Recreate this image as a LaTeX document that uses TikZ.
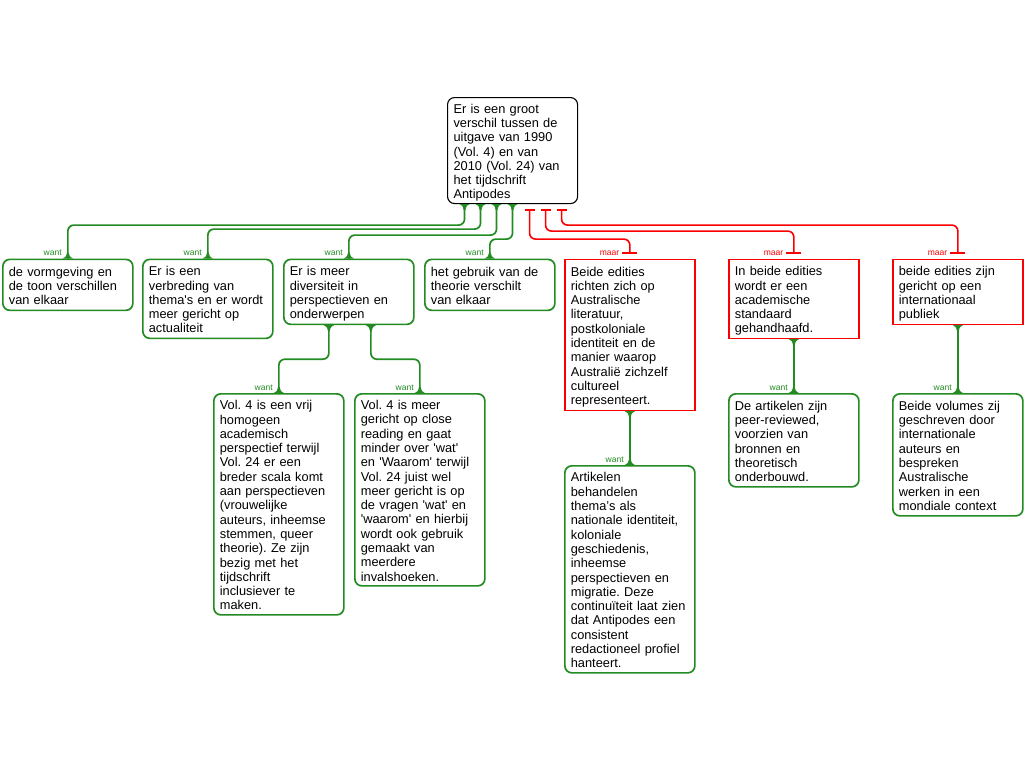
\documentclass[tikz,border=0pt]{standalone}
\usepackage{fontspec}
\setmainfont{Liberation Sans}[Ligatures=TeXOff]
\frenchspacing
\usetikzlibrary{arrows.meta}
\definecolor{gcol}{RGB}{34,139,34}
\definecolor{rcol}{RGB}{250,0,0}
\newcommand\tstrut{\rule{0pt}{15.5pt}}
\newcommand\bstrut{\rule[-4.5pt]{0pt}{0pt}}
\tikzset{
  txt/.style={anchor=north west, inner xsep=6pt, inner ysep=0pt, text width=118pt, align=left,
    font=\fontsize{12.8}{14.3}\selectfont, text=black,
    execute at begin node=\tstrut, execute at end node=\bstrut},
  topbox/.style={txt, draw=black, line width=1.1pt, rounded corners=7pt},
  gbox/.style={txt, draw=gcol, line width=1.7pt, rounded corners=7pt},
  rbox/.style={txt, draw=rcol, line width=1.7pt},
  gline/.style={draw=gcol, line width=1.7pt, rounded corners=6pt},
  rline/.style={draw=rcol, line width=1.6pt, rounded corners=6pt,
    {Bar[width=10pt,line width=1.6pt]}-{Bar[width=15pt,line width=1.6pt]}, shorten <=5pt, shorten >=5pt},
  glab/.style={anchor=east, inner sep=0pt, text=gcol, font=\fontsize{8.5}{9}\selectfont},
  rlab/.style={anchor=east, inner sep=0pt, text=rcol, font=\fontsize{8.5}{9}\selectfont},
}
\newcommand\flaredown[1]{\fill[gcol] ([xshift=-5pt]#1) .. controls ([xshift=-2pt,yshift=-1.5pt]#1) .. ([xshift=-0.8pt,yshift=-6pt]#1) -- ([xshift=0.8pt,yshift=-6pt]#1) .. controls ([xshift=2pt,yshift=-1.5pt]#1) .. ([xshift=5pt]#1) -- cycle;}
\newcommand\flareup[1]{\fill[gcol] ([xshift=-5pt]#1) .. controls ([xshift=-2pt,yshift=1.5pt]#1) .. ([xshift=-0.8pt,yshift=6pt]#1) -- ([xshift=0.8pt,yshift=6pt]#1) .. controls ([xshift=2pt,yshift=1.5pt]#1) .. ([xshift=5pt]#1) -- cycle;}
\begin{document}
\begin{tikzpicture}[x=1pt,y=-1pt]
\useasboundingbox (0,0) rectangle (1024,768);
\fill[white] (0,0) rectangle (1024,768);

\node[topbox, minimum height=106pt] (T) at (447,97) {Er is een groot\\verschil tussen de\\uitgave van 1990\\(Vol. 4) en van\\2010 (Vol. 24) van\\het tijdschrift\\Antipodes};

\node[gbox, minimum height=51pt] (c1) at (2,258.5) {de vormgeving en\\de toon verschillen\\van elkaar};
\node[gbox, minimum height=79pt] (c2) at (142,258.5) {Er is een\\verbreding van\\thema's en er wordt\\meer gericht op\\actualiteit};
\node[gbox, minimum height=65pt] (c3) at (283,258.5) {Er is meer\\diversiteit in\\perspectieven en\\onderwerpen};
\node[gbox, minimum height=51pt] (c4) at (424,258.5) {het gebruik van de\\theorie verschilt\\van elkaar};
\node[rbox, minimum height=151pt] (c5) at (564,258.5) {Beide edities\\richten zich op\\Australische\\literatuur,\\postkoloniale\\identiteit en de\\manier waarop\\Australië zichzelf\\cultureel\\representeert.};
\node[rbox, minimum height=79pt] (c6) at (728,258.5) {In beide edities\\wordt er een\\academische\\standaard\\gehandhaafd.};
\node[rbox, minimum height=65pt] (c7) at (892,258.5) {beide edities zijn\\gericht op een\\internationaal\\publiek};

\node[gbox, minimum height=221pt] (c3a) at (213,393) {Vol. 4 is een vrij\\homogeen\\academisch\\perspectief terwijl\\Vol. 24 er een\\breder scala komt\\aan perspectieven\\(vrouwelijke\\auteurs, inheemse\\stemmen, queer\\theorie). Ze zijn\\bezig met het\\tijdschrift\\inclusiever te\\maken.};
\node[gbox, minimum height=192pt] (c3b) at (354,393) {Vol. 4 is meer\\gericht op close\\reading en gaat\\minder over 'wat'\\en 'Waarom' terwijl\\Vol. 24 juist wel\\meer gericht is op\\de vragen 'wat' en\\'waarom' en hierbij\\wordt ook gebruik\\gemaakt van\\meerdere\\invalshoeken.};
\node[gbox, minimum height=207pt] (c5a) at (564,465) {Artikelen\\behandelen\\thema’s als\\nationale identiteit,\\koloniale\\geschiedenis,\\inheemse\\perspectieven en\\migratie. Deze\\continuïteit laat zien\\dat Antipodes een\\consistent\\redactioneel profiel\\hanteert.};
\node[gbox, minimum height=93pt] (c6a) at (728,393) {De artikelen zijn\\peer-reviewed,\\voorzien van\\bronnen en\\theoretisch\\onderbouwd.};
\node[gbox, minimum height=122pt] (c7a) at (892,393) {Beide volumes zij\\geschreven door\\internationale\\auteurs en\\bespreken\\Australische\\werken in een\\mondiale context};

% exit points on the top node
\coordinate (g1) at ([xshift=-48pt]T.south);
\coordinate (g2) at ([xshift=-32pt]T.south);
\coordinate (g3) at ([xshift=-16pt]T.south);
\coordinate (g4) at ([xshift=0pt]T.south);
\coordinate (r1) at ([xshift=17pt]T.south);
\coordinate (r2) at ([xshift=33pt]T.south);
\coordinate (r3) at ([xshift=49pt]T.south);
\coordinate (d1) at ([xshift=-20pt]c3.south);
\coordinate (d2) at ([xshift=22pt]c3.south);

% green (want) connectors
\draw[gline] (g1) -- ++(0,21) -| (c1.north);
\draw[gline] (g2) -- ++(0,25) -| (c2.north);
\draw[gline] (g3) -- ++(0,31) -| (c3.north);
\draw[gline] (g4) -- ++(0,35) -| (c4.north);
\draw[gline] (d1) -- ++(0,34) -| (c3a.north);
\draw[gline] (d2) -- ++(0,34) -| (c3b.north);
\draw[gline] (c5.south) -- (c5a.north);
\draw[gline] (c6.south) -- (c6a.north);
\draw[gline] (c7.south) -- (c7a.north);

\foreach \p in {g1,g2,g3,g4,d1,d2,c5.south,c6.south,c7.south} {\flaredown{\p}}
\foreach \p in {c1.north,c2.north,c3.north,c4.north,c3a.north,c3b.north,c5a.north,c6a.north,c7a.north} {\flareup{\p}}

% red (maar) connectors
\draw[rline] (r1) -- ++(0,35) -| (c5.north);
\draw[rline] (r2) -- ++(0,27) -| (c6.north);
\draw[rline] (r3) -- ++(0,21) -| (c7.north);

% labels
\foreach \n in {c1,c2,c3,c4,c3a,c3b,c5a,c6a,c7a} {\node[glab] (w\n) at ([xshift=-6pt,yshift=5.5pt]\n.north) {want};}
\foreach \n in {c5,c6,c7} {\node[rlab] (m\n) at ([xshift=-10.5pt,yshift=5.5pt]\n.north) {maar};}
\end{tikzpicture}
\end{document}
